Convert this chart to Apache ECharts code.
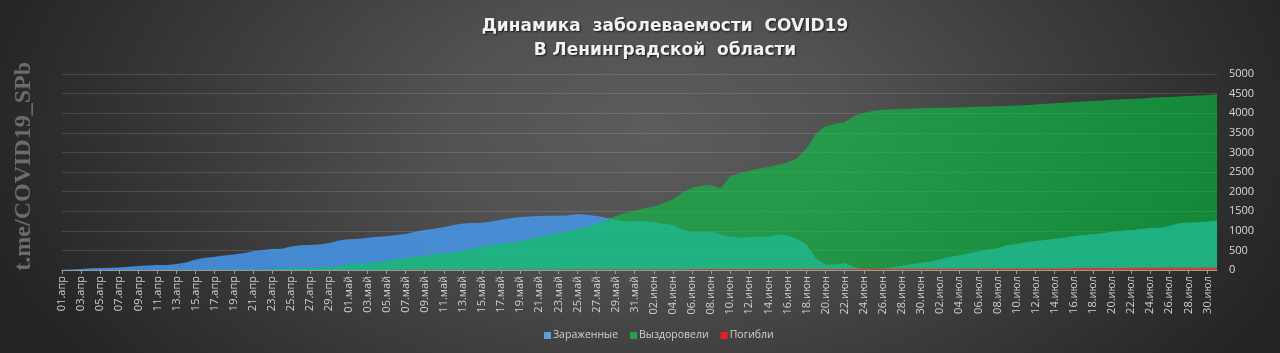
<!DOCTYPE html>
<html>
<head>
<meta charset="utf-8">
<script src="https://cdn.jsdelivr.net/npm/echarts@6/dist/echarts.min.js"></script>
<style>
html,body{margin:0;padding:0;}
#chart{width:1280px;height:353px;
background: radial-gradient(ellipse 680px 400px at 650px 130px, #5c5c5c 0%, #525252 30%, #3d3d3d 62%, #252525 100%);}
</style>
</head>
<body>
<div id="chart"></div>
<script>
// ---- data ----
const months = ['апр', 'май', 'июн', 'июл'];
const monthDays = [30, 31, 30, 31];
const yTicks = [0, 500, 1000, 1500, 2000, 2500, 3000, 3500, 4000, 4500, 5000];
const seriesNames = ['Зараженные', 'Выздоровели', 'Погибли'];

const infected = [
  5, 12, 25, 43, 50, 58, 65, 80, 100, 115,
  125, 128, 150, 190, 270, 315, 340, 370, 395, 430,
  480, 510, 535, 545, 600, 630, 640, 660, 690, 750,
  785, 790, 820, 850, 860, 890, 920, 975, 1020, 1055,
  1090, 1145, 1185, 1200, 1207, 1240, 1280, 1320, 1350, 1365,
  1378, 1382, 1385, 1390, 1428, 1410, 1380, 1330, 1280, 1235,
  1245, 1250, 1215, 1180, 1145, 1040, 965, 975, 980, 900,
  850, 825, 845, 850, 850, 905, 880, 790, 660, 290,
  140, 140, 180, 70, 17, 22, 35, 70, 110, 150,
  185, 215, 270, 330, 375, 425, 480, 520, 555, 630,
  665, 710, 740, 765, 800, 825, 865, 890, 915, 945,
  978, 1000, 1020, 1045, 1070, 1080, 1120, 1190, 1210, 1220,
  1240, 1258
];

const recovered = [
  0, 0, 0, 0, 0, 2, 2, 3, 3, 4,
  5, 5, 6, 7, 8, 9, 10, 10, 12, 13,
  14, 15, 25, 32, 40, 45, 55, 60, 70, 85,
  150, 160, 170, 200, 230, 265, 298, 335, 365, 410,
  430, 450, 500, 550, 590, 630, 670, 700, 740, 800,
  850, 900, 950, 980, 1040, 1100, 1180, 1270, 1380, 1460,
  1510, 1570, 1620, 1700, 1800, 1980, 2100, 2150, 2170, 2080,
  2390, 2470, 2530, 2580, 2630, 2680, 2740, 2850, 3100, 3490,
  3670, 3730, 3770, 3920, 4010, 4060, 4090, 4100, 4110, 4120,
  4125, 4133, 4138, 4142, 4148, 4155, 4163, 4170, 4176, 4185,
  4195, 4205, 4220, 4240, 4255, 4268, 4285, 4298, 4310, 4325,
  4340, 4355, 4365, 4378, 4392, 4405, 4415, 4425, 4440, 4450,
  4465, 4481
];

const deaths = [
  0, 0, 0, 0, 0, 0, 0, 0, 0, 0,
  1, 1, 1, 1, 1, 1, 1, 1, 1, 1,
  2, 2, 2, 2, 2, 3, 3, 3, 3, 3,
  3, 3, 3, 3, 3, 4, 4, 4, 5, 5,
  5, 5, 6, 6, 6, 7, 7, 7, 8, 8,
  9, 9, 9, 10, 10, 10, 10, 11, 11, 11,
  11, 12, 12, 12, 12, 12, 22, 23, 23, 24,
  24, 24, 25, 25, 25, 26, 26, 26, 27, 27,
  27, 28, 28, 29, 29, 30, 30, 31, 31, 32,
  32, 32, 33, 33, 34, 34, 35, 35, 36, 36,
  36, 37, 37, 37, 37, 37, 52, 52, 53, 53,
  54, 54, 55, 55, 56, 56, 57, 57, 58, 58,
  59, 60
];

// category labels built from month names
const categories = [];
months.forEach((m, k) => {
  for (let d = 1; d <= monthDays[k]; d++) {
    categories.push((d < 10 ? '0' : '') + d + '.' + m);
  }
});

const chart = echarts.init(document.getElementById('chart'), null, {renderer: 'canvas'});
const labelFont = '"Open Sans", "Noto Sans", sans-serif';

chart.setOption({
  backgroundColor: 'transparent',
  animation: false,
  title: {
    text: 'Динамика  заболеваемости  COVID19\nВ Ленинградской  области',
    left: 660,
    top: 10,
    textAlign: 'center',
    textStyle: {
      color: '#f2f2f2',
      fontFamily: '"DejaVu Sans", sans-serif',
      fontWeight: 'bold',
      fontSize: 17,
      lineHeight: 24,
      textShadowColor: 'rgba(0,0,0,0.75)',
      textShadowBlur: 2,
      textShadowOffsetX: 1,
      textShadowOffsetY: 1
    }
  },
  graphic: [{
    type: 'text',
    left: 12,
    top: 62,
    rotation: Math.PI / 2,
    style: {
      text: 't.me/COVID19_SPb',
      fill: '#6c6c6c',
      font: 'bold 24px "Liberation Serif", serif'
    }
  }],
  legend: {
    left: 539,
    top: 325,
    itemWidth: 7,
    itemHeight: 7,
    itemGap: 12,
    icon: 'rect',
    textStyle: {color: '#d0d0d0', fontSize: 10.5, fontFamily: labelFont, padding: [0, 0, 0, -3]},
    data: [
      {name: seriesNames[0], itemStyle: {color: '#5a9de0'}},
      {name: seriesNames[1], itemStyle: {color: '#1fa24a'}},
      {name: seriesNames[2], itemStyle: {color: '#ee1c1c'}}
    ]
  },
  grid: {left: 62, right: 63, top: 74, bottom: 83},
  xAxis: {
    type: 'category',
    data: categories,
    boundaryGap: false,
    axisLine: {lineStyle: {color: '#9a9a9a', width: 1}},
    axisTick: {interval: 1, length: 4, lineStyle: {color: '#9a9a9a'}},
    axisLabel: {interval: 1, rotate: 90, margin: 6, color: '#d0d0d0', fontSize: 11, fontFamily: labelFont},
    splitLine: {show: false}
  },
  yAxis: {
    type: 'value',
    position: 'right',
    min: yTicks[0],
    max: yTicks[yTicks.length - 1],
    interval: 500,
    axisLine: {show: false},
    axisTick: {show: false},
    axisLabel: {margin: 12, color: '#d9d9d9', fontSize: 11, fontFamily: labelFont,
      formatter: function (v) { return String(v); }},
    splitLine: {lineStyle: {color: 'rgba(255,255,255,0.13)', width: 1}}
  },
  series: [
    {
      name: seriesNames[0], type: 'line', data: infected,
      showSymbol: false, symbol: 'none',
      itemStyle: {color: '#5a9de0'},
      lineStyle: {width: 0},
      areaStyle: {color: 'rgba(70,150,235,0.85)', opacity: 1}
    },
    {
      name: seriesNames[1], type: 'line', data: recovered,
      showSymbol: false, symbol: 'none',
      itemStyle: {color: '#1fa24a'},
      lineStyle: {width: 0},
      areaStyle: {color: 'rgba(0,210,66,0.55)', opacity: 1}
    },
    {
      name: seriesNames[2], type: 'line', data: deaths,
      showSymbol: false, symbol: 'none',
      itemStyle: {color: '#ee1c1c'},
      lineStyle: {width: 0},
      areaStyle: {color: '#d93a2e', opacity: 1}
    }
  ]
});
</script>
</body>
</html>
